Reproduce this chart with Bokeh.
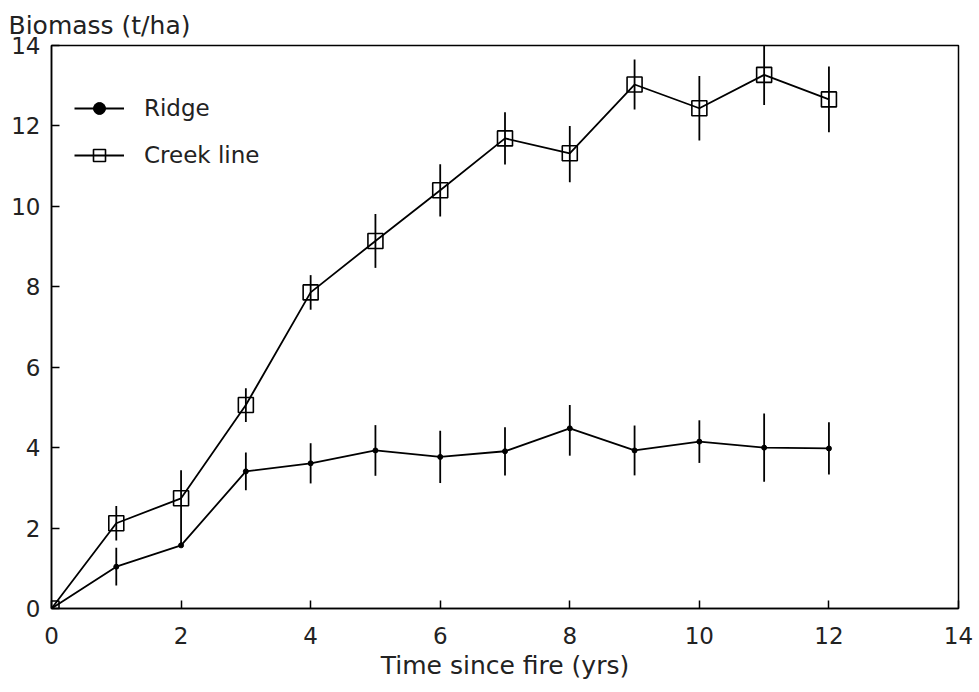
from bokeh.plotting import figure
from bokeh.models import Range1d, Legend, LegendItem, FixedTicker
from bokeh.embed import file_html
from bokeh.resources import INLINE

years = [0, 1, 2, 3, 4, 5, 6, 7, 8, 9, 10, 11, 12]
ridge = [0, 1.04, 1.57, 3.41, 3.61, 3.93, 3.77, 3.91, 4.48, 3.93, 4.15, 4.0, 3.98]
ridge_err_lo = [0, 0.47, 0.0, 0.47, 0.5, 0.63, 0.65, 0.6, 0.68, 0.62, 0.53, 0.85, 0.65]
ridge_err_hi = [0, 0.47, 0.0, 0.47, 0.5, 0.63, 0.65, 0.6, 0.58, 0.62, 0.53, 0.85, 0.65]
creek = [0, 2.12, 2.74, 5.06, 7.86, 9.14, 10.4, 11.69, 11.32, 13.03, 12.44, 13.27, 12.66]
creek_err_lo = [0, 0.43, 1.17, 0.42, 0.43, 0.67, 0.65, 0.65, 0.72, 0.62, 0.8, 0.75, 0.82]
creek_err_hi = [0, 0.43, 0.7, 0.42, 0.43, 0.67, 0.65, 0.65, 0.68, 0.62, 0.8, 0.75, 0.82]
ticks = [0, 2, 4, 6, 8, 10, 12, 14]

FONT = "DejaVu Sans"

p = figure(width=979, height=692, output_backend="svg", toolbar_location=None,
           x_range=Range1d(0, 14), y_range=Range1d(0, 14),
           min_border_left=51, min_border_right=21, min_border_top=45, min_border_bottom=84,
           title="Biomass (t/ha)")
p.title.text_font = FONT
p.title.text_font_size = "25px"
p.title.text_font_style = "normal"
p.title.text_color = "#222222"
p.title.align = "left"
p.title.offset = -43
p.title.standoff = 12

p.grid.visible = False
p.outline_line_color = "black"
p.outline_line_width = 1.5
p.background_fill_color = "white"
p.border_fill_color = "white"

for ax in (p.xaxis[0], p.yaxis[0]):
    ax.ticker = FixedTicker(ticks=ticks)
    ax.major_tick_in = 8
    ax.major_tick_out = 0
    ax.minor_tick_line_color = None
    ax.axis_line_width = 1.5
    ax.major_tick_line_width = 1.5
    ax.axis_line_color = "black"
    ax.major_tick_line_color = "black"
    ax.major_label_text_font = FONT
    ax.major_label_text_font_size = "23px"
    ax.major_label_text_color = "#222222"

p.xaxis.major_label_standoff = 18
p.yaxis.major_label_standoff = 11
p.xaxis.axis_label = "Time since fire (yrs)"
p.xaxis.axis_label_text_font = FONT
p.xaxis.axis_label_text_font_size = "25px"
p.xaxis.axis_label_text_font_style = "normal"
p.xaxis.axis_label_text_color = "#222222"
p.xaxis.axis_label_standoff = 4

# error bars
r_lo = [v - e for v, e in zip(ridge, ridge_err_lo)]
r_hi = [v + e for v, e in zip(ridge, ridge_err_hi)]
c_lo = [v - e for v, e in zip(creek, creek_err_lo)]
c_hi = [v + e for v, e in zip(creek, creek_err_hi)]
p.segment(years, r_lo, years, r_hi, line_color="black", line_width=1.8)
p.segment(years, c_lo, years, c_hi, line_color="black", line_width=1.8)

rl = p.line(years, ridge, line_color="black", line_width=1.8)
rs = p.scatter(years, ridge, marker="circle", size=5, fill_color="black", line_color="black")
cl = p.line(years, creek, line_color="black", line_width=1.8)
cs = p.scatter(years, creek, marker="square", size=15, fill_color=None, line_color="black", line_width=1.6)

legend = Legend(items=[LegendItem(label="Ridge", renderers=[rl, rs]),
                       LegendItem(label="Creek line", renderers=[cl, cs])],
                location=(23, 438), margin=0, padding=10,
                glyph_width=50, glyph_height=30, spacing=17, label_standoff=20,
                label_text_font=FONT, label_text_font_size="23px", label_text_color="#222222",
                border_line_color=None, background_fill_alpha=0)
p.add_layout(legend)

open("out.html", "w").write(file_html(p, INLINE))
